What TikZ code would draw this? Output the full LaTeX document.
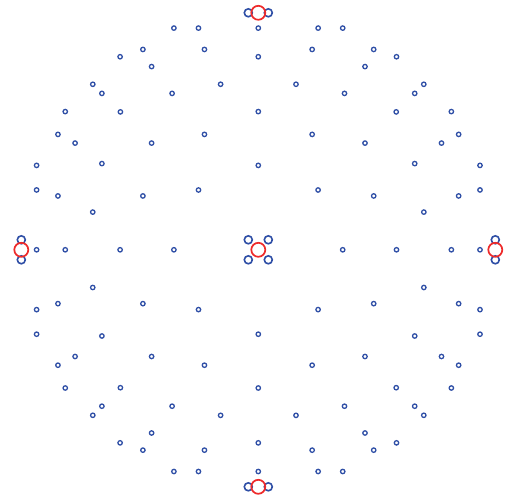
\documentclass[tikz,border=0pt]{standalone}
\definecolor{ptblue}{HTML}{2F4FA6}
\definecolor{ptred}{HTML}{EE2B2B}
\begin{document}
\begin{tikzpicture}[x=1pt,y=1pt,
  smallpt/.style={draw=ptblue, line width=1.3pt},
  bigpt/.style={draw=ptblue, line width=1.6pt},
  redpt/.style={draw=ptred, line width=1.7pt}]
\useasboundingbox (-258.3,-252.2) rectangle (252.7,249.8);
% points on the axes
\foreach \r in {221.7,193.05,138.2,84.4} {
  \foreach \a/\b in {1/0,-1/0,0/1,0/-1}
    \draw[smallpt] (\a*\r,\b*\r) circle (2.2);
}
% points on the diagonals
\foreach \r in {165.5,156.4,137.9,106.7,59.8} {
  \foreach \a in {1,-1} {
    \foreach \b in {1,-1}
      \draw[smallpt] (\a*\r,\b*\r) circle (2.2);
  }
}
% general points (eight images each)
\foreach \u/\v in {84.4/221.7, 59.85/221.7, 115.4/200.35, 53.85/200.35, 138.2/193.05, 106.7/183.2, 37.7/165.55, 86.2/156.4, 53.85/115.4} {
  \foreach \a in {1,-1} {
    \foreach \b in {1,-1} {
      \draw[smallpt] (\a*\u,\b*\v) circle (2.2);
      \draw[smallpt] (\a*\v,\b*\u) circle (2.2);
    }
  }
}
% large blue circles
\foreach \a in {1,-1} {
  \foreach \b in {1,-1}
    \draw[bigpt] (\a*10,\b*10) circle (4.0);
  \draw[bigpt] (\a*10,237) circle (4.0);
  \draw[bigpt] (\a*10,-237) circle (4.0);
  \draw[bigpt] (237,\a*10) circle (4.0);
  \draw[bigpt] (-237,\a*10) circle (4.0);
}
% red circles
\draw[redpt] (0,0) circle (7);
\draw[redpt] (0,237) circle (7);
\draw[redpt] (0,-237) circle (7);
\draw[redpt] (237,0) circle (7);
\draw[redpt] (-237,0) circle (7);
\end{tikzpicture}
\end{document}
